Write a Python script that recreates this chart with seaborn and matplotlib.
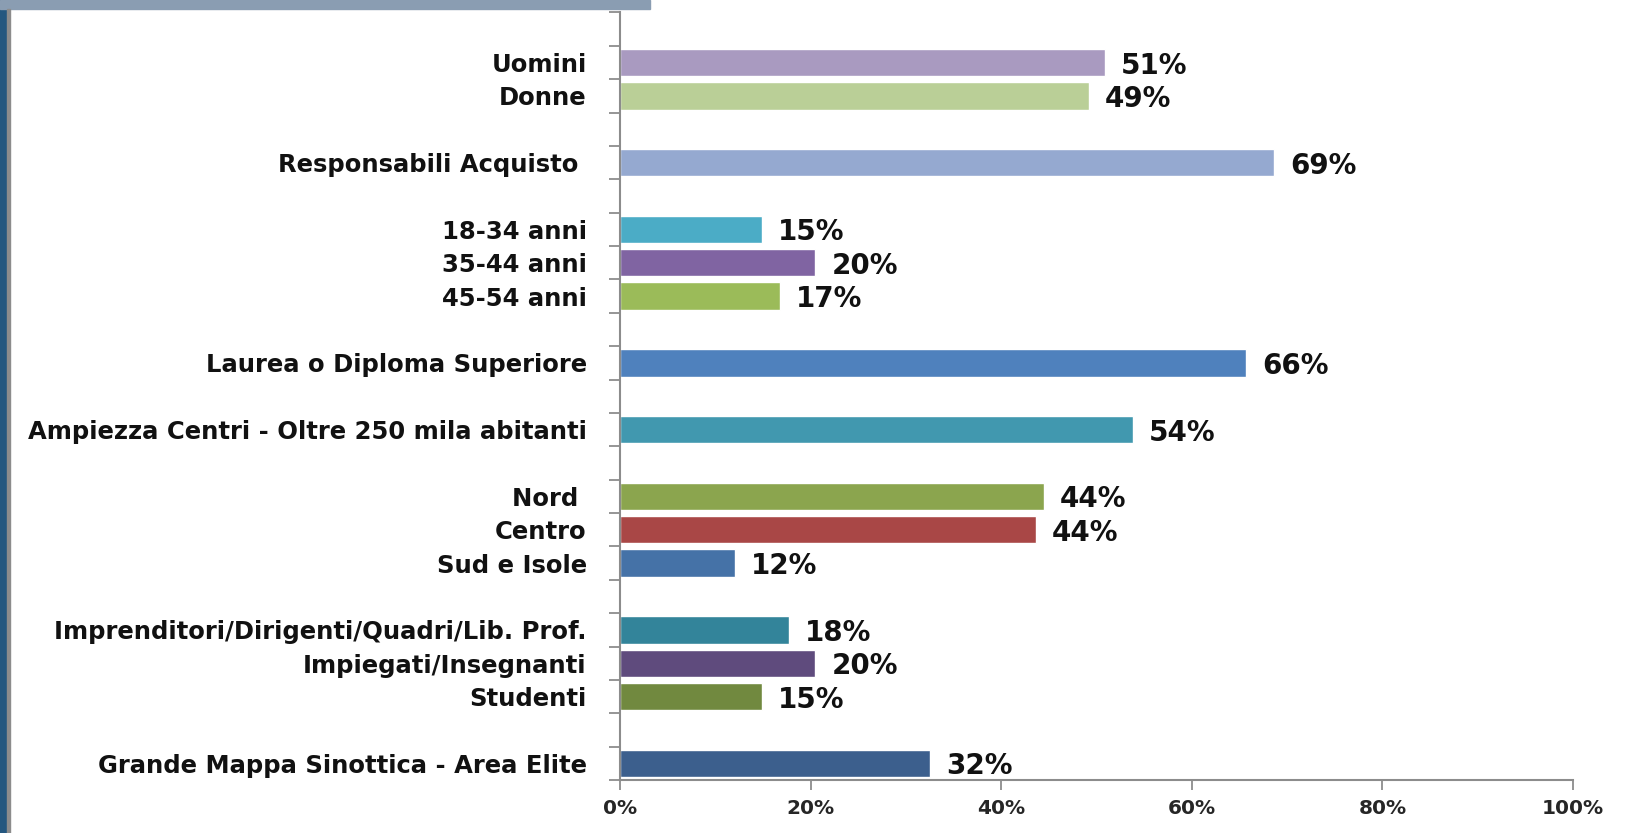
import matplotlib
matplotlib.use("Agg")
import matplotlib.pyplot as plt
import matplotlib.patches as mpatches
from matplotlib.ticker import FixedLocator, PercentFormatter
import seaborn as sns
import pandas as pd

# ---- data ----
categories = ["Uomini", "Donne", "Responsabili Acquisto ",
              "18-34 anni", "35-44 anni", "45-54 anni",
              "Laurea o Diploma Superiore",
              "Ampiezza Centri - Oltre 250 mila abitanti",
              "Nord ", "Centro", "Sud e Isole",
              "Imprenditori/Dirigenti/Quadri/Lib. Prof.", "Impiegati/Insegnanti", "Studenti",
              "Grande Mappa Sinottica - Area Elite"]
values = [50.9, 49.2, 68.6, 14.9, 20.5, 16.8, 65.7, 53.8, 44.5, 43.6, 12.1, 17.7, 20.5, 14.9, 32.5]
value_labels = ["51%", "49%", "69%", "15%", "20%", "17%", "66%", "54%",
                "44%", "44%", "12%", "18%", "20%", "15%", "32%"]
colors = ["#A99AC0", "#BACF97", "#95A9D0", "#4BACC6", "#8064A2", "#9BBB59",
          "#4F81BD", "#4198AF", "#8BA54E", "#A94746", "#4572A7", "#33849A",
          "#5F4B7D", "#71893F", "#3C5F8D"]
# slot layout (gap slots between groups, as in the source chart)
groups = [[0, 1], [2], [3, 4, 5], [6], [7], [8, 9, 10], [11, 12, 13], [14]]
x_ticks = [0, 20, 40, 60, 80, 100]

order, slot_labels = ["_gap0"], [""]
gi = 1
for g_idx, g in enumerate(groups):
    for i in g:
        order.append(categories[i]); slot_labels.append(categories[i])
    if g_idx < len(groups) - 1:
        order.append(f"_gap{gi}"); slot_labels.append(""); gi += 1

df = pd.DataFrame({"cat": categories, "val": values})
palette = dict(zip(categories, colors))

sns.set_theme(style="white")
plt.rcParams["font.family"] = ["DejaVu Sans"]

fig = plt.figure(figsize=(16.26, 8.33), dpi=100)
fig.patch.set_facecolor("white")
# decorative frame from the slide background
fig.add_artist(mpatches.Rectangle((0, 0), 7 / 1626, 1, transform=fig.transFigure,
                                  color="#24577F", zorder=0))
fig.add_artist(mpatches.Rectangle((0, 1 - 9 / 833), 650 / 1626, 9 / 833,
                                  transform=fig.transFigure, color="#8A9DB2", zorder=0))
fig.add_artist(mpatches.Rectangle((7 / 1626, 0), 3 / 1626, 1 - 9 / 833,
                                  transform=fig.transFigure, color="#8C8C8C", zorder=1))

ax = fig.add_axes([620 / 1626, 1 - 780 / 833, (1573 - 620) / 1626, (780 - 12.5) / 833])
sns.barplot(data=df, x="val", y="cat", hue="cat", order=order, hue_order=categories,
            palette=palette, orient="h", width=0.82, dodge=False, legend=False,
            saturation=1, ax=ax)

n = len(order)
ax.set_ylim(n - 0.5, -0.5)
ax.set_xlim(0, 100)
ax.set_xlabel(""); ax.set_ylabel("")

ax.set_yticks(range(n))
ax.set_yticklabels(slot_labels, fontsize=17.5, fontweight="bold", color="#111111")
ax.tick_params(axis="y", which="major", length=0, pad=24)
ax.yaxis.set_minor_locator(FixedLocator([k - 0.5 for k in range(n + 1)]))
ax.tick_params(axis="y", which="minor", left=True, length=8, width=1.3, color="#8C8C8C")

ax.set_xticks(x_ticks)
ax.xaxis.set_major_formatter(PercentFormatter(decimals=0))
ax.tick_params(axis="x", which="major", bottom=True, length=7, width=1.3,
               color="#8C8C8C", pad=7, labelsize=14.5)
for t in ax.get_xticklabels():
    t.set_fontweight("bold")

for s in ["top", "right"]:
    ax.spines[s].set_visible(False)
for s in ["left", "bottom"]:
    ax.spines[s].set_color("#8C8C8C")
    ax.spines[s].set_linewidth(1.5)

for cat, v, lab in zip(categories, values, value_labels):
    y = order.index(cat)
    ax.annotate(lab, xy=(v, y), xytext=(16, -3), textcoords="offset pixels",
                ha="left", va="center", fontsize=20, fontweight="bold", color="#111111")

fig.savefig("out.png", dpi=100, facecolor=fig.get_facecolor())
